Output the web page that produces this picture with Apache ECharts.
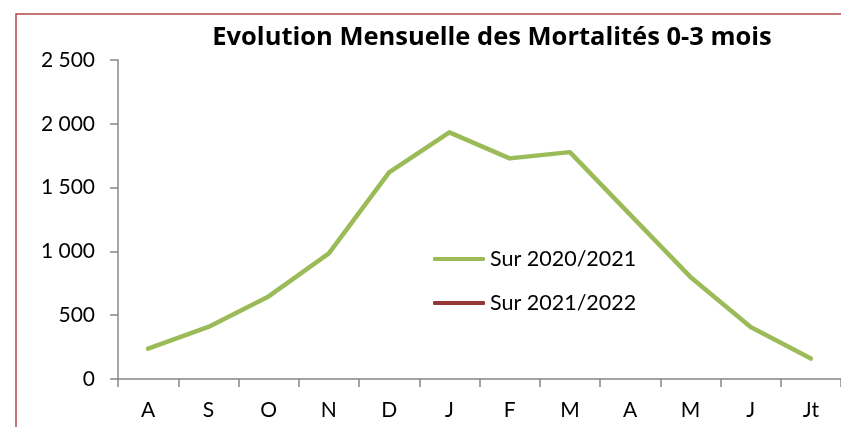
<!DOCTYPE html>
<html>
<head>
<meta charset="utf-8">
<script src="https://cdn.jsdelivr.net/npm/echarts@6/dist/echarts.min.js"></script>
<style>
html,body{margin:0;padding:0;background:#fff;}
#c{width:841px;height:427px;}
</style>
</head>
<body>
<div id="c"></div>
<script>
const categories = ['A','S','O','N','D','J','F','M','A','M','J','Jt'];
const serie2020 = [238, 408, 647, 984, 1619, 1933, 1729, 1778, 1288, 800, 408, 160];
const serie2021 = [];
const seriesNames = ['Sur 2020/2021', 'Sur 2021/2022'];
const titleText = 'Evolution Mensuelle des Mortalités 0-3 mois';

const fontFam = 'Lato, "Open Sans", sans-serif';
const chart = echarts.init(document.getElementById('c'), null, {renderer:'canvas'});
chart.setOption({
  animation:false,
  backgroundColor:'#fff',
  title:{
    text:titleText,
    left:492, top:25, textAlign:'center', padding:0,
    textStyle:{fontFamily:'"Open Sans", sans-serif', fontWeight:'bold', fontSize:25.5, color:'#000'}
  },
  legend:{
    orient:'vertical',
    left:433, top:248, padding:0,
    itemWidth:52, itemHeight:4, itemGap:22,
    icon:'roundRect',
    textStyle:{fontFamily:fontFam, fontSize:21.5, color:'#000'},
    data:seriesNames
  },
  grid:{left:118, top:60, width:729, bottom:48, containLabel:false},
  xAxis:{
    type:'category', data:categories, boundaryGap:true,
    axisLine:{lineStyle:{color:'#878787', width:1.5}},
    axisTick:{show:true, length:8, alignWithLabel:false, lineStyle:{color:'#878787', width:1.5}},
    axisLabel:{fontFamily:fontFam, fontSize:21, color:'#000', margin:21}
  },
  yAxis:{
    type:'value', min:0, max:2500, interval:500,
    splitLine:{show:false},
    axisLine:{show:true, lineStyle:{color:'#878787', width:1.5}},
    axisTick:{show:true, length:8, lineStyle:{color:'#878787', width:1.5}},
    axisLabel:{fontFamily:fontFam, fontSize:21, color:'#000', margin:23,
      formatter:function(v){return String(v).replace(/\B(?=(\d{3})+(?!\d))/g,' ');}}
  },
  series:[
    {name:seriesNames[0], type:'line', data:serie2020, showSymbol:false, symbol:'none',
     lineStyle:{color:'#9BBB59', width:4.5, cap:'round', join:'round'}, itemStyle:{color:'#9BBB59'}},
    {name:seriesNames[1], type:'line', data:serie2021, showSymbol:false, symbol:'none',
     lineStyle:{color:'#953735', width:4.5}, itemStyle:{color:'#953735'}}
  ],
  graphic:[
    {type:'polyline', shape:{points:[[16,427],[16,14],[841,14]]},
     style:{stroke:'#B04A48', lineWidth:1.5, fill:null}}
  ]
});
</script>
</body>
</html>
